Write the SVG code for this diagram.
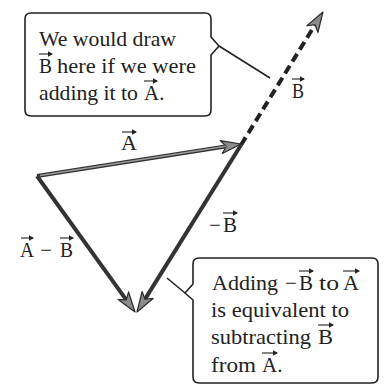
<svg xmlns="http://www.w3.org/2000/svg" width="385" height="384" viewBox="0 0 385 384">
<defs>
<style>
.t{font-family:'Liberation Serif','DejaVu Serif',serif;font-size:21px;fill:#222}
.box{fill:#fff;stroke:#222;stroke-width:1.6;stroke-linejoin:round}
.tail{fill:none;stroke:#222;stroke-width:1.6}
.vec{fill:none;stroke:#333;stroke-width:4;marker-end:url(#head)}
.vin{fill:none;stroke:#9a9a9a;stroke-width:1.4}
.dash{fill:none;stroke:#222;stroke-width:4;stroke-dasharray:9 5;marker-end:url(#head)}
.ov{fill:none;stroke:#222;stroke-width:1.1;marker-end:url(#sm)}
</style>
<marker id="head" markerUnits="userSpaceOnUse" markerWidth="24" markerHeight="16" viewBox="-1 -8 24 16" refX="14" refY="0" orient="auto">
<path d="M0,-6.5 L20,0 L0,6.5 L5,0 Z" fill="#8c8c8c" stroke="#2a2a2a" stroke-width="1.2" stroke-linejoin="round"/>
</marker>
<marker id="sm" markerUnits="userSpaceOnUse" markerWidth="8" markerHeight="8" viewBox="0 -4 8 8" refX="4" refY="0" orient="auto">
<path d="M0,-2.8 L5,0 L0,2.8 Z" fill="#222"/>
</marker>
</defs>

<g id="connectors">
<path class="dash" d="M241,145 L319.8,17.1"/>
<path class="vec" d="M37,176 L235.1,144.9"/>
<path class="vin" d="M40,175.5 L226,146.3"/>
<path class="vec" d="M241,145 L140.2,306.9"/>
<path class="vec" d="M37,176 L131.5,307.1"/>
<path class="tail" d="M219,46 L270,78"/>
<path class="tail" d="M167,278 L185,293"/>
</g>

<g id="label-A">
<text class="t" x="121" y="150" textLength="16" lengthAdjust="spacingAndGlyphs">A</text>
<path class="ov" d="M122,132 H136"/>
</g>
<g id="label-B">
<text class="t" x="292" y="98" textLength="12" lengthAdjust="spacingAndGlyphs">B</text>
<path class="ov" d="M292,79 H304"/>
</g>
<g id="label-negB">
<text class="t" x="209" y="232">−</text>
<text class="t" x="223" y="232" textLength="14" lengthAdjust="spacingAndGlyphs">B</text>
<path class="ov" d="M223,213 H237"/>
</g>
<g id="label-AminusB">
<text class="t" x="20" y="257" textLength="14" lengthAdjust="spacingAndGlyphs">A</text>
<text class="t" x="40" y="257">−</text>
<text class="t" x="60" y="257" textLength="13" lengthAdjust="spacingAndGlyphs">B</text>
<path class="ov" d="M21,238 H33"/>
<path class="ov" d="M60,238 H73"/>
</g>

<g id="callout-top">
<path class="box" d="M31,13 H205 Q211,13 211,19 V37 L219,46 L211,55 V110 Q211,116 205,116 H31 Q25,116 25,110 V19 Q25,13 31,13 Z"/>
<text class="t" x="39" y="46" textLength="137" lengthAdjust="spacingAndGlyphs">We would draw</text>
<text class="t" x="39" y="73" textLength="13" lengthAdjust="spacingAndGlyphs">B</text>
<text class="t" x="57" y="73" textLength="139" lengthAdjust="spacingAndGlyphs">here if we were</text>
<text class="t" x="39" y="100" textLength="99" lengthAdjust="spacingAndGlyphs">adding it to</text>
<text class="t" x="144" y="100">A.</text>
<path class="ov" d="M39,54 H52"/>
<path class="ov" d="M144,81 H157"/>
</g>

<g id="callout-bottom">
<path class="box" d="M199,258 H372 Q378,258 378,264 V377 Q378,383 372,383 H199 Q193,383 193,377 V300 L185,293 L193,284 V264 Q193,258 199,258 Z"/>
<text class="t" x="212" y="290" textLength="66" lengthAdjust="spacingAndGlyphs">Adding</text>
<text class="t" x="285" y="290">−</text>
<text class="t" x="299" y="290" textLength="14" lengthAdjust="spacingAndGlyphs">B</text>
<text class="t" x="319" y="290" textLength="20" lengthAdjust="spacingAndGlyphs">to</text>
<text class="t" x="343" y="290" textLength="16" lengthAdjust="spacingAndGlyphs">A</text>
<path class="ov" d="M299,271 H313"/>
<path class="ov" d="M343,271 H359"/>
<text class="t" x="211" y="317" textLength="138" lengthAdjust="spacingAndGlyphs">is equivalent to</text>
<text class="t" x="211" y="344" textLength="100" lengthAdjust="spacingAndGlyphs">subtracting</text>
<text class="t" x="318" y="344" textLength="15" lengthAdjust="spacingAndGlyphs">B</text>
<path class="ov" d="M318,325 H333"/>
<text class="t" x="211" y="372" textLength="45" lengthAdjust="spacingAndGlyphs">from</text>
<text class="t" x="262" y="372">A.</text>
<path class="ov" d="M262,353 H277"/>
</g>
</svg>
